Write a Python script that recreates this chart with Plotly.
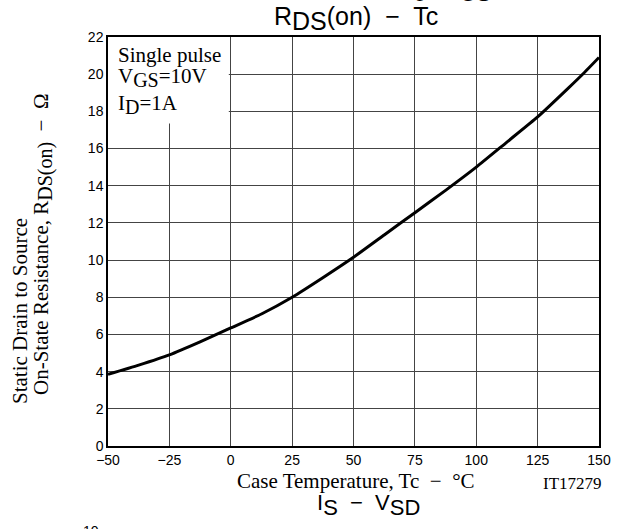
import plotly.graph_objects as go

# Data
temp_c = [-50, -37.5, -25, -12.5, 0, 12.5, 25, 37.5, 50, 62.5, 75, 87.5, 100, 112.5, 125, 137.5, 143.75, 150]
rds_on = [3.85, 4.35, 4.9, 5.6, 6.35, 7.1, 8.0, 9.05, 10.15, 11.35, 12.55, 13.75, 15.0, 16.35, 17.7, 19.25, 20.05, 20.9]

x_ticks = [-50, -25, 0, 25, 50, 75, 100, 125, 150]
x_ticktext = ["\u221250", "\u221225", "0", "25", "50", "75", "100", "125", "150"]
y_ticks = [0, 2, 4, 6, 8, 10, 12, 14, 16, 18, 20, 22]

W, H = 627, 529
L, R, T, B = 108, 28, 37, 83
PW, PH = W - L - R, H - T - B


def px(x):
    return (x - L) / PW


def py(y):
    return (H - B - y) / PH


def sub(t, size):
    return "<sub><span style='font-size:%dpx'>%s</span></sub>" % (size, t)


SANS = "Liberation Sans, Arial, sans-serif"
SERIF = "Liberation Serif, Times New Roman, serif"

fig = go.Figure()
fig.add_trace(go.Scatter(x=temp_c, y=rds_on, mode="lines",
                         line=dict(color="black", width=3, shape="spline", smoothing=0.5),
                         showlegend=False, hoverinfo="skip"))

fig.update_layout(
    width=W, height=H,
    margin=dict(l=L, r=R, t=T, b=B),
    paper_bgcolor="white", plot_bgcolor="white",
    font=dict(family=SANS, color="black"),
    xaxis=dict(range=[-50, 150], tickvals=x_ticks, ticktext=x_ticktext,
               showgrid=True, gridcolor="#444444", gridwidth=1,
               showline=True, linecolor="black", linewidth=1.5, mirror=True,
               zeroline=False, ticks="", tickfont=dict(family=SANS, size=14, color="black")),
    yaxis=dict(range=[0, 22], tickvals=y_ticks,
               showgrid=True, gridcolor="#444444", gridwidth=1,
               showline=True, linecolor="black", linewidth=1.5, mirror=True,
               zeroline=False, ticks="", tickfont=dict(family=SANS, size=14, color="black")),
)

# White legend box covering grid
fig.add_shape(type="rect", xref="x", yref="y", x0=-50, x1=-0.8, y0=17.35, y1=22,
              fillcolor="white", line=dict(width=0), layer="between")

ann = []
# Title
ann.append(dict(text="R" + sub("DS", 25) + "(on)  \u2212  Tc", xref="paper", yref="paper",
                x=px(356), y=py(19), xanchor="center", yanchor="middle",
                showarrow=False, font=dict(family=SANS, size=25, color="black")))
# Cropped top text from previous chart
ann.append(dict(text="g , V" + sub("GS", 22), xref="paper", yref="paper",
                x=px(452), y=py(8.5), xanchor="center", yanchor="bottom",
                showarrow=False, font=dict(family=SANS, size=22, color="black")))
# Legend text
for txt, yy in [("Single pulse", 55), ("V" + sub("GS", 20) + "=10V", 78), ("I" + sub("D", 20) + "=1A", 104)]:
    ann.append(dict(text=txt, xref="paper", yref="paper", x=px(116), y=py(yy),
                    xanchor="left", yanchor="middle", showarrow=False,
                    font=dict(family=SERIF, size=21, color="black")))
# Y axis title (two lines)
ann.append(dict(text="Static Drain to Source", xref="paper", yref="paper",
                x=px(20), y=py(311), xanchor="center", yanchor="middle", textangle=-90,
                showarrow=False, font=dict(family=SERIF, size=21, color="black")))
ann.append(dict(text="On-State Resistance, R" + sub("DS(on)", 20) + "  \u2212  \u03a9",
                xref="paper", yref="paper",
                x=px(43), y=py(244), xanchor="center", yanchor="middle", textangle=-90,
                showarrow=False, font=dict(family=SERIF, size=21, color="black")))
# X axis title
ann.append(dict(text="Case Temperature, Tc  \u2212  \u00b0C", xref="paper", yref="paper",
                x=px(356), y=py(481), xanchor="center", yanchor="middle",
                showarrow=False, font=dict(family=SERIF, size=21, color="black")))
ann.append(dict(text="IT17279", xref="paper", yref="paper",
                x=px(572), y=py(483), xanchor="center", yanchor="middle",
                showarrow=False, font=dict(family=SERIF, size=17, color="black")))
# Next chart title (bottom)
ann.append(dict(text="I" + sub("S", 22) + "  \u2212  V" + sub("SD", 22), xref="paper", yref="paper",
                x=px(368), y=py(505), xanchor="center", yanchor="middle",
                showarrow=False, font=dict(family=SANS, size=22, color="black")))
ann.append(dict(text="10", xref="paper", yref="paper",
                x=px(91), y=py(531), xanchor="center", yanchor="middle",
                showarrow=False, font=dict(family=SANS, size=14, color="black")))

fig.update_layout(annotations=ann)
fig.write_html("out.html", config={"displayModeBar": False},
               post_script="document.body.style.margin='0px';")
